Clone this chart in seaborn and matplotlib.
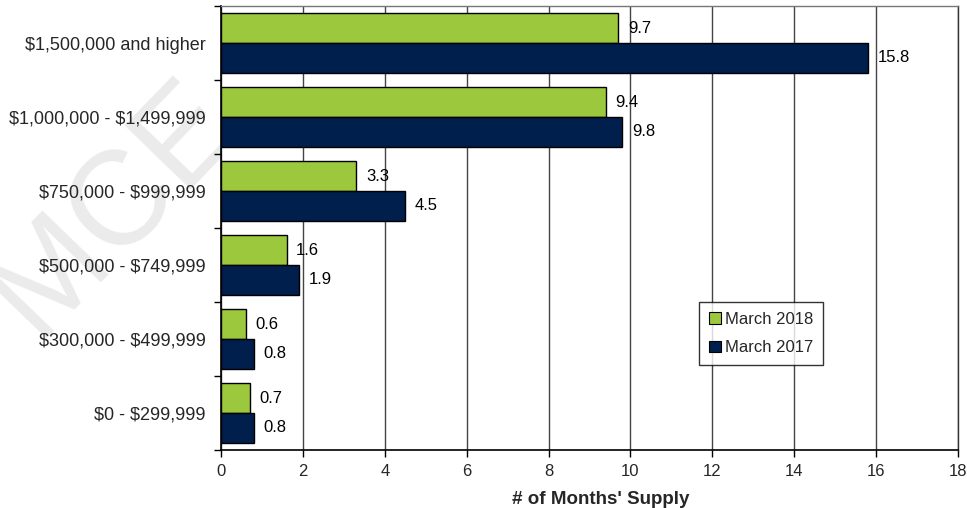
import matplotlib
matplotlib.use("Agg")
import matplotlib.pyplot as plt
from matplotlib.ticker import FixedLocator, NullFormatter
import seaborn as sns
import pandas as pd

price_ranges = [
    "$1,500,000 and higher",
    "$1,000,000 - $1,499,999",
    "$750,000 - $999,999",
    "$500,000 - $749,999",
    "$300,000 - $499,999",
    "$0 - $299,999",
]
periods = ["March 2018", "March 2017"]
supply_2018 = [9.7, 9.4, 3.3, 1.6, 0.6, 0.7]
supply_2017 = [15.8, 9.8, 4.5, 1.9, 0.8, 0.8]
x_ticks = [0, 2, 4, 6, 8, 10, 12, 14, 16, 18]

df = pd.DataFrame({
    "range": price_ranges * 2,
    "period": [periods[0]] * len(price_ranges) + [periods[1]] * len(price_ranges),
    "supply": supply_2018 + supply_2017,
})

sns.set_style("white")
plt.rcParams["font.family"] = ["Liberation Sans", "DejaVu Sans"]
plt.rcParams["text.parse_math"] = False

GREEN = "#9BC83C"
NAVY = "#001F4D"
FS = 12

fig = plt.figure(figsize=(9.67, 5.08), dpi=100)
ax = fig.add_axes([221 / 967, 1 - 450 / 508, (958 - 221) / 967, (450 - 6) / 508])

# faint background mark, drawn behind the axes and their labels
fig.text(114 / 967, 1 - 208 / 508, "MCE", fontsize=96, color="#ebebeb", rotation=46,
         rotation_mode="anchor", ha="center", va="center", zorder=-1)
ax.set_facecolor("white")

sns.barplot(data=df, y="range", x="supply", hue="period", order=price_ranges,
            hue_order=periods, palette=[GREEN, NAVY], saturation=1, width=0.8,
            edgecolor="black", linewidth=1, ax=ax, zorder=3, legend=True)

for cont in ax.containers:
    ax.bar_label(cont, fmt="%.1f", padding=7, fontsize=FS, color="black")

ax.set_xlim(0, 18)
ax.set_ylim(len(price_ranges) - 0.5, -0.5)
ax.xaxis.set_major_locator(FixedLocator(x_ticks))
ax.set_xticklabels([str(t) for t in x_ticks], fontsize=FS)
ax.grid(axis="x", color="#444444", linewidth=1, zorder=0)
ax.grid(axis="y", visible=False)
ax.set_axisbelow(True)

# category labels at centres, tick marks at the boundaries between categories
ax.tick_params(axis="y", which="major", length=0, labelsize=FS + 1, pad=11)
ax.yaxis.set_minor_locator(FixedLocator([i - 0.5 for i in range(len(price_ranges) + 1)]))
ax.yaxis.set_minor_formatter(NullFormatter())
ax.tick_params(axis="y", which="minor", left=True, length=5, width=1, color="black", direction="out")
ax.tick_params(axis="x", which="major", bottom=True, length=5, width=1, color="black",
               direction="out", pad=5)

ax.set_xlabel("# of Months' Supply", fontsize=FS + 1.5, fontweight="bold", labelpad=9,
              x=(601 - 221) / 737)
ax.set_ylabel("")

for side in ["left", "bottom"]:
    ax.spines[side].set_color("black")
    ax.spines[side].set_linewidth(1.2)
ax.spines["top"].set_color("#777777")
ax.spines["top"].set_linewidth(1)
ax.spines["right"].set_color("#333333")
ax.spines["right"].set_linewidth(1)

leg = ax.legend(loc="upper left", bbox_to_anchor=((699 - 221) / 737, (450 - 302) / 444),
                frameon=True, fancybox=False, edgecolor="black", fontsize=FS,
                handlelength=0.7, handleheight=0.7, handletextpad=0.25,
                labelspacing=0.8, borderpad=0.6, borderaxespad=0)
leg.get_frame().set_linewidth(1)
for h in leg.legend_handles:
    h.set_edgecolor("black")
    h.set_linewidth(0.8)

fig.savefig("out.png", dpi=100)
